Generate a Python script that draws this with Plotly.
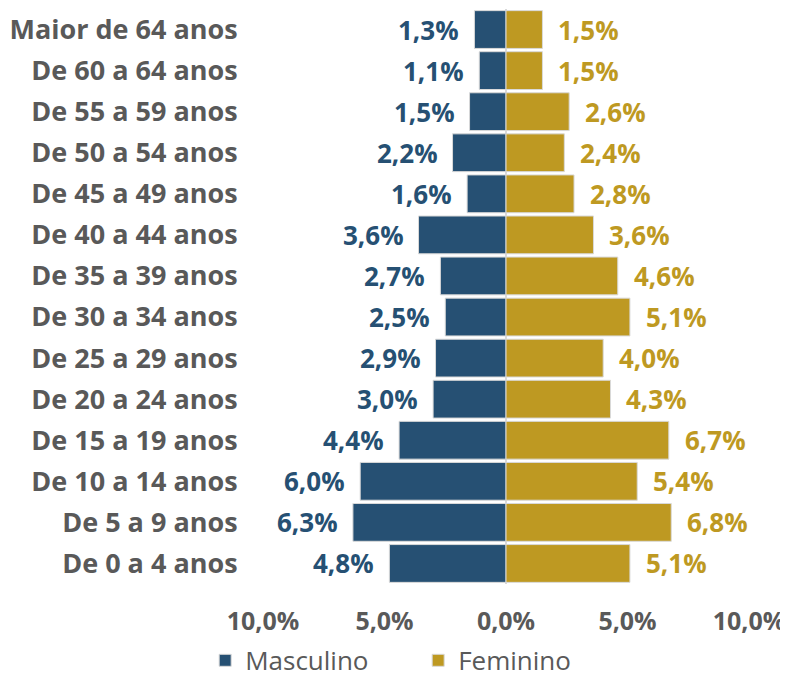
import plotly.graph_objects as go

categories = ["Maior de 64 anos", "De 60 a 64 anos", "De 55 a 59 anos", "De 50 a 54 anos",
              "De 45 a 49 anos", "De 40 a 44 anos", "De 35 a 39 anos", "De 30 a 34 anos",
              "De 25 a 29 anos", "De 20 a 24 anos", "De 15 a 19 anos", "De 10 a 14 anos",
              "De 5 a 9 anos", "De 0 a 4 anos"]
masculino = [1.3, 1.1, 1.5, 2.2, 1.6, 3.6, 2.7, 2.5, 2.9, 3.0, 4.4, 6.0, 6.3, 4.8]
feminino = [1.5, 1.5, 2.6, 2.4, 2.8, 3.6, 4.6, 5.1, 4.0, 4.3, 6.7, 5.4, 6.8, 5.1]
tick_vals = [-10, -5, 0, 5, 10]
tick_text = ["10,0%", "5,0%", "0,0%", "5,0%", "10,0%"]

BLUE = "#265073"
GOLD = "#BE9922"
GRAY = "#595959"
FONT = "Open Sans"

def fmt(v):
    return f"{v:.1f}".replace(".", ",") + "%"

fig = go.Figure()
fig.add_trace(go.Bar(y=categories, x=[-v for v in masculino], orientation="h", name="Masculino",
                     marker=dict(color=BLUE, line=dict(color="#D9D9D9", width=1))))
fig.add_trace(go.Bar(y=categories, x=feminino, orientation="h", name="Feminino",
                     marker=dict(color=GOLD, line=dict(color="#D9D9D9", width=1))))

for c, v in zip(categories, masculino):
    fig.add_annotation(x=-v, y=c, text=fmt(v), showarrow=False, xanchor="right", xshift=-13,
                       font=dict(family=FONT, size=26, color=BLUE, weight="bold"))
for c, v in zip(categories, feminino):
    fig.add_annotation(x=v, y=c, text=fmt(v), showarrow=False, xanchor="left", xshift=14,
                       font=dict(family=FONT, size=26, color=GOLD, weight="bold"))

fig.update_layout(
    width=780, height=665,
    margin=dict(l=255, r=39, t=1, b=89, autoexpand=False),
    barmode="relative", bargap=0.08,
    plot_bgcolor="white", paper_bgcolor="white",
    font=dict(family=FONT, color=GRAY),
    xaxis=dict(range=[-10, 10], tickvals=tick_vals, ticktext=tick_text, showgrid=False,
               automargin=False, ticklabeloverflow="allow",
               zeroline=True, zerolinecolor="#D9D9D9", zerolinewidth=2,
               ticks="outside", ticklen=15, tickcolor="rgba(0,0,0,0)",
               tickfont=dict(family=FONT, size=25, color=GRAY, weight="bold")),
    yaxis=dict(autorange="reversed", showgrid=False, ticks="outside", ticklen=19,
               automargin=False,
               tickcolor="rgba(0,0,0,0)",
               tickfont=dict(family=FONT, size=27, color=GRAY, weight="bold")),
    legend=dict(orientation="h", x=-0.119, xanchor="left", y=-0.092, yanchor="top",
                font=dict(family=FONT, size=26, color=GRAY), entrywidth=168,
                entrywidthmode="pixels", traceorder="normal"),
)

fig.write_html("out.html")
